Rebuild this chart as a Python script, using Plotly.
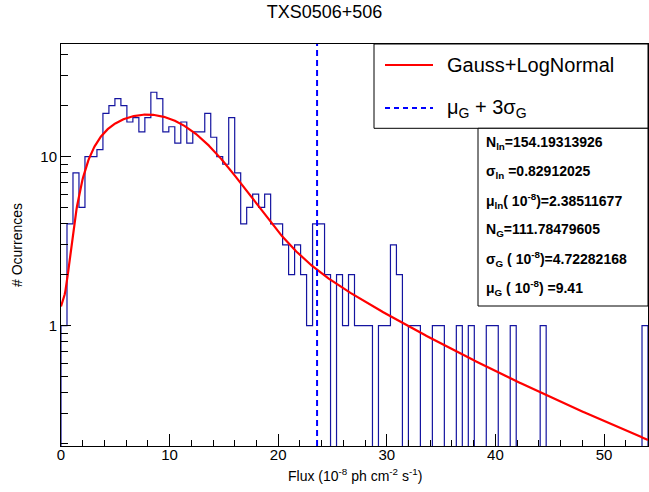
import numpy as np
import plotly.graph_objects as go

# ---------------- data ----------------
TITLE = "TXS0506+506"
X_MIN, X_MAX = 0.0, 54.05
N_BINS = 98
COUNTS = ([1, 4, 8, 5, 10, 10, 11, 18, 20, 22,
           20, 16, 17, 14, 17, 24, 22, 14, 15, 12,
           16, 12, 14, 14, 18, 13, 10, 9, 17, 8,
           4, 5, 6, 5, 6, 4, 4, 3, 2, 3,
           2, 1, 4, 4, 2, 0, 2, 1, 2, 1,
           1, 1, 0, 1, 1, 3, 2, 0, 1, 1,
           0, 0, 1, 1, 0, 0, 1, 0, 1, 0,
           0, 1, 1, 0, 0, 1, 0, 0, 0, 0,
           1] + [0] * 16 + [1])

# fit parameters (Gauss + LogNormal) shown in the stats box
N_LN = 154.19313926
SIG_LN = 0.82912025
MU_LN = 2.38511677
N_G = 111.78479605
SIG_G = 4.72282168
MU_G = 9.41

STATS_LINES = [
    "N<sub>ln</sub>=154.19313926",
    "σ<sub>ln</sub> =0.82912025",
    "μ<sub>ln</sub>( 10<sup>-8</sup>)=2.38511677",
    "N<sub>G</sub>=111.78479605",
    "σ<sub>G</sub> ( 10<sup>-8</sup>)=4.72282168",
    "μ<sub>G</sub> ( 10<sup>-8</sup>) =9.41",
]
LEGEND_LABELS = ["Gauss+LogNormal", "μ<sub>G</sub> + 3σ<sub>G</sub>"]
X_TITLE = "Flux (10<sup>-8</sup> ph cm<sup>-2</sup> s<sup>-1</sup>)"
Y_TITLE = "# Ocurrences"
X_TICKS = [0, 10, 20, 30, 40, 50]
Y_TICKS = [1, 10]
Y_MINOR = [0.2, 0.3, 0.4, 0.5, 0.6, 0.7, 0.8, 0.9, 2, 3, 4, 5, 6, 7, 8, 9, 20, 30, 40]
Y_MIN, Y_MAX = 0.194, 46.3

# ---------------- derived ----------------
counts = np.array(COUNTS, dtype=float)
edges = np.linspace(X_MIN, X_MAX, N_BINS + 1)
FLOOR = 1e-3  # empty bins: outline drops to the bottom of the frame
cplot = np.where(counts > 0, counts, FLOOR)
hx = np.concatenate([[edges[0]], np.repeat(edges, 2)[1:-1], [edges[-1]]])
hy = np.concatenate([[FLOOR], np.repeat(cplot, 2), [FLOOR]])

xf = np.linspace(X_MIN, X_MAX, 800)
xs = np.maximum(xf, 1e-12)
ln_part = np.where(
    xf > 0,
    N_LN / (xs * SIG_LN * np.sqrt(2 * np.pi))
    * np.exp(-(np.log(xs) - MU_LN) ** 2 / (2 * SIG_LN ** 2)),
    0.0,
)
g_part = N_G / (SIG_G * np.sqrt(2 * np.pi)) * np.exp(-(xf - MU_G) ** 2 / (2 * SIG_G ** 2))
yf = ln_part + g_part
x_cut = MU_G + 3 * SIG_G

FONT = "Liberation Sans"
W, H = 649, 492
ML, MR, MT, MB = 61, 1, 44, 46
PW, PH = W - ML - MR, H - MT - MB


def px(xp):
    return (xp - ML) / PW


def py(yp):
    return (H - MB - yp) / PH


fig = go.Figure()
fig.add_trace(go.Scatter(x=hx, y=hy, mode="lines",
                         line=dict(color="#1414a0", width=1.2),
                         showlegend=False, hoverinfo="skip"))
fig.add_trace(go.Scatter(x=xf, y=yf, mode="lines",
                         line=dict(color="#ff0000", width=2.2),
                         showlegend=False))
fig.add_trace(go.Scatter(x=[x_cut, x_cut], y=[Y_MIN, Y_MAX], mode="lines",
                         line=dict(color="#0000ff", width=2, dash="6px,4px"),
                         showlegend=False))

shapes = []
annotations = []
# legend box
LEG_X0, LEG_Y0, LEG_Y1 = 374, 128.3, 44
shapes.append(dict(type="rect", xref="paper", yref="paper",
                   x0=px(LEG_X0), x1=1.0, y0=py(LEG_Y0), y1=py(LEG_Y1),
                   line=dict(color="black", width=1), fillcolor="white", layer="above"))
leg_rows = [65, 108]
leg_styles = [dict(color="#ff0000", width=2), dict(color="#0000ff", width=2, dash="5px,4px")]
for yrow, lab, st in zip(leg_rows, LEGEND_LABELS, leg_styles):
    shapes.append(dict(type="line", xref="paper", yref="paper",
                       x0=px(385), x1=px(433), y0=py(yrow), y1=py(yrow),
                       line=st, layer="above"))
    annotations.append(dict(xref="paper", yref="paper", x=px(445), y=py(yrow),
                            xanchor="left", yanchor="middle", showarrow=False,
                            text=lab, font=dict(family=FONT, size=20, color="black")))
# stats box
ST_X0, ST_Y0 = 478, 306
shapes.append(dict(type="rect", xref="paper", yref="paper",
                   x0=px(ST_X0), x1=1.0, y0=py(ST_Y0), y1=py(LEG_Y0),
                   line=dict(color="black", width=1), fillcolor="white", layer="above"))
for i, line in enumerate(STATS_LINES):
    yrow = 143 + i * 29
    annotations.append(dict(xref="paper", yref="paper", x=px(484), y=py(yrow),
                            xanchor="left", yanchor="middle", showarrow=False,
                            text="<b>" + line + "</b>",
                            font=dict(family=FONT, size=14, color="black")))
# x axis title
annotations.append(dict(xref="paper", yref="paper", x=0.5, y=py(475),
                        xanchor="center", yanchor="middle", showarrow=False,
                        text=X_TITLE, font=dict(family=FONT, size=14, color="black")))

fig.update_layout(
    width=W, height=H,
    margin=dict(l=ML, r=MR, t=MT, b=MB, pad=0),
    paper_bgcolor="white", plot_bgcolor="white",
    title=dict(text=TITLE, x=0.5, xanchor="center", y=1 - 12 / H, yanchor="middle",
               font=dict(family=FONT, size=18, color="black")),
    font=dict(family=FONT, color="black"),
    shapes=shapes, annotations=annotations, showlegend=False,
)
fig.update_xaxes(
    range=[X_MIN, X_MAX], showgrid=False, zeroline=False,
    showline=True, linecolor="black", linewidth=1, mirror=True,
    ticks="inside", ticklen=12, tickcolor="black", tickwidth=1,
    tickvals=X_TICKS, ticktext=[str(v) for v in X_TICKS],
    tickfont=dict(family=FONT, size=15), ticklabelstandoff=-5,
    minor=dict(ticks="inside", ticklen=6, dtick=2, tick0=0, tickcolor="black", showgrid=False),
)
fig.update_yaxes(
    type="log", range=[np.log10(Y_MIN), np.log10(Y_MAX)], showgrid=False, zeroline=False,
    showline=True, linecolor="black", linewidth=1, mirror=True,
    ticks="inside", ticklen=10, tickcolor="black", tickwidth=1,
    tickvals=Y_TICKS, ticktext=[str(v) for v in Y_TICKS],
    tickfont=dict(family=FONT, size=15),
    minor=dict(ticks="inside", ticklen=7, tickvals=Y_MINOR, tickcolor="black", showgrid=False),
    title=dict(text=Y_TITLE, font=dict(family=FONT, size=14), standoff=14),
)

fig.write_html("out.html", config={"displayModeBar": False},
               post_script="document.body.style.margin='0';")
